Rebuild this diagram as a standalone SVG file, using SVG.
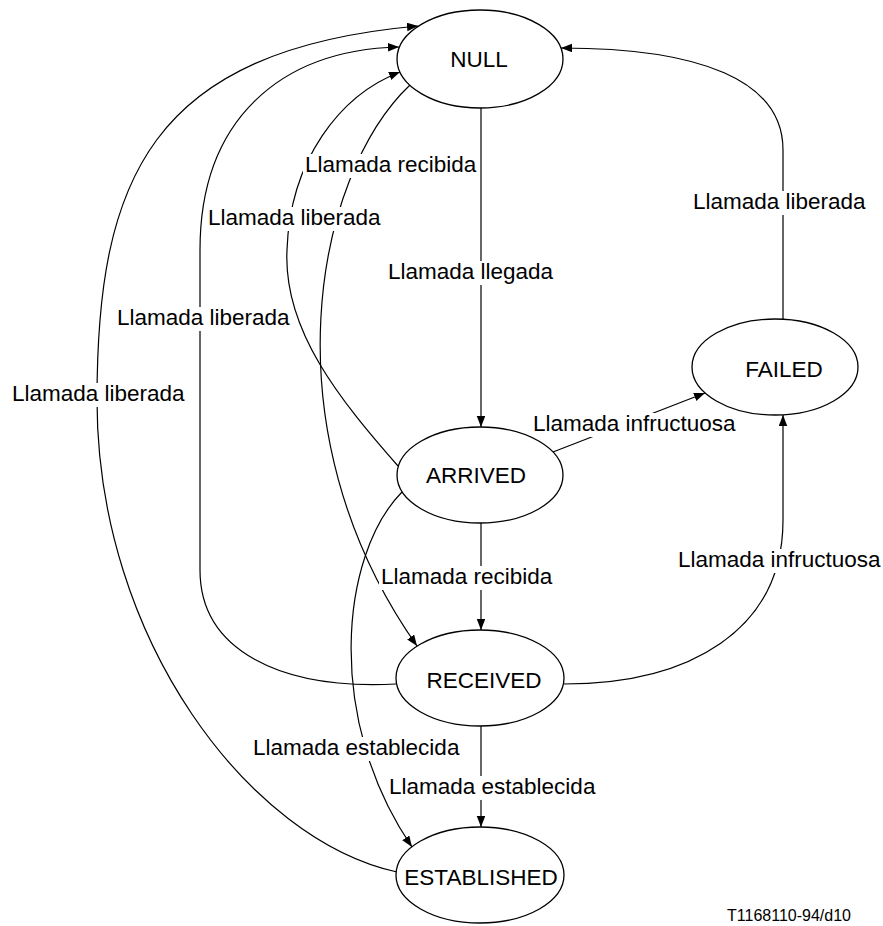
<svg xmlns="http://www.w3.org/2000/svg" width="883" height="926" viewBox="0 0 883 926">
  <style>
    .node ellipse { fill: #fff; stroke: #000; stroke-width: 1.3; }
    .node text { font-family: "Liberation Sans", Arial, sans-serif; font-size: 22.5px; fill: #000; text-anchor: middle; dominant-baseline: central; }
    .edge { fill: none; stroke: #000; stroke-width: 1.2; }
    .arrow { marker-end: url(#head); }
    .lbl rect { fill: #fff; stroke: none; }
    .lbl text { font-family: "Liberation Sans", Arial, sans-serif; font-size: 22.5px; fill: #000; }
    .ref { font-family: "Liberation Sans", Arial, sans-serif; font-size: 16px; fill: #000; }
  </style>
  <defs>
    <marker id="head" markerUnits="userSpaceOnUse" markerWidth="12" markerHeight="10" refX="11" refY="4.25" orient="auto">
      <path d="M0,0 L11,4.25 L0,8.5 z" fill="#000"/>
    </marker>
  </defs>

  <!-- transitions -->
  <g id="connectors">
    <path class="edge arrow" d="M481 108 L481 427"/>
    <path class="edge arrow" d="M481 523 L481 630"/>
    <path class="edge arrow" d="M481 726 L481 827"/>
    <path class="edge arrow" d="M402 492 C340 555 325 720 412 847"/>
    <path class="edge arrow" d="M410 85 C315 175 265 430 417 646"/>
    <path class="edge arrow" d="M398 466 C340 400 283 330 287 250 C290 160 340 95 400 72"/>
    <path class="edge arrow" d="M396 684 C280 690 200 650 200 570 L200 250 C200 120 280 50 399 47"/>
    <path class="edge arrow" d="M397 872 C250 840 97 640 97 400 C97 180 150 50 418 26"/>
    <path class="edge arrow" d="M783 319 L783 150 C783 80 700 48 561 48"/>
    <path class="edge arrow" d="M553 452 L705 393"/>
    <path class="edge arrow" d="M564 684 C690 684 783 630 783 520 L783 415"/>
  </g>

  <!-- transition labels -->
  <g id="labels">
    <g class="lbl"><rect x="303" y="154" width="174" height="24"/><text x="305" y="172">Llamada recibida</text></g>
    <g class="lbl"><rect x="206" y="207" width="177" height="24"/><text x="208" y="225">Llamada liberada</text></g>
    <g class="lbl"><rect x="386" y="261" width="170" height="24"/><text x="388" y="279">Llamada llegada</text></g>
    <g class="lbl"><rect x="115" y="307" width="177" height="24"/><text x="117" y="325">Llamada liberada</text></g>
    <g class="lbl"><rect x="10" y="383" width="177" height="24"/><text x="12" y="401">Llamada liberada</text></g>
    <g class="lbl"><rect x="691" y="191" width="177" height="24"/><text x="693" y="209">Llamada liberada</text></g>
    <g class="lbl"><rect x="531" y="413" width="207" height="24"/><text x="533" y="431">Llamada infructuosa</text></g>
    <g class="lbl"><rect x="379" y="566" width="174" height="24"/><text x="381" y="584">Llamada recibida</text></g>
    <g class="lbl"><rect x="676" y="549" width="207" height="24"/><text x="678" y="567">Llamada infructuosa</text></g>
    <g class="lbl"><rect x="251" y="737" width="211" height="24"/><text x="253" y="755">Llamada establecida</text></g>
    <g class="lbl"><rect x="387" y="776" width="211" height="24"/><text x="389" y="794">Llamada establecida</text></g>
  </g>

  <!-- states -->
  <g id="null" class="node"><ellipse cx="480" cy="59" rx="83" ry="49"/><text x="479" y="59">NULL</text></g>
  <g id="arrived" class="node"><ellipse cx="480" cy="475" rx="83" ry="48"/><text x="476" y="475">ARRIVED</text></g>
  <g id="received" class="node"><ellipse cx="480" cy="678" rx="84" ry="48"/><text x="484" y="680">RECEIVED</text></g>
  <g id="established" class="node"><ellipse cx="480" cy="875" rx="84" ry="48"/><text x="481" y="877">ESTABLISHED</text></g>
  <g id="failed" class="node"><ellipse cx="775" cy="367" rx="83" ry="48"/><text x="784" y="369">FAILED</text></g>

  <text class="ref" x="727" y="921">T1168110-94/d10</text>
</svg>
